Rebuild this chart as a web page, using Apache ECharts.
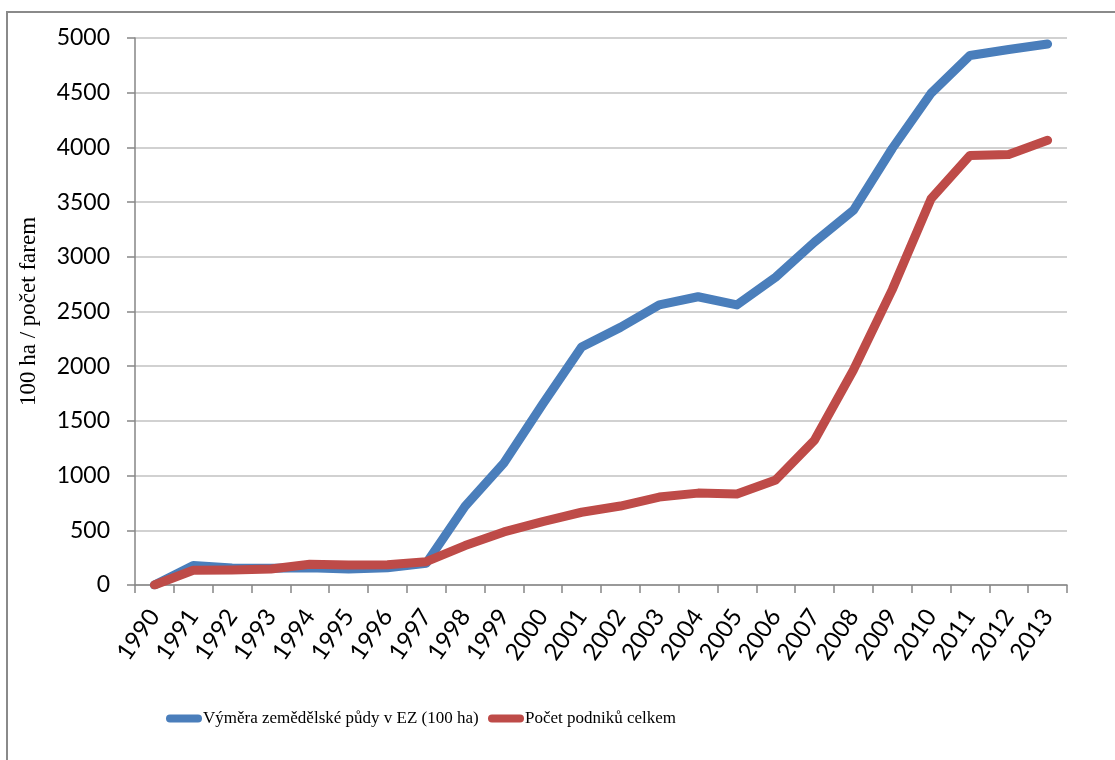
<!DOCTYPE html>
<html>
<head>
<meta charset="utf-8">
<script src="https://cdn.jsdelivr.net/npm/echarts@6/dist/echarts.min.js"></script>
<style>
html, body { margin: 0; padding: 0; background: #fff; }
#main { width: 1115px; height: 760px; }
</style>
</head>
<body>
<div id="main"></div>
<script>
// roky
const years = ['1990','1991','1992','1993','1994','1995','1996','1997','1998','1999','2000','2001',
  '2002','2003','2004','2005','2006','2007','2008','2009','2010','2011','2012','2013'];
// výměra zemědělské půdy v EZ (100 ha)
const vymera = [0, 178, 155, 152, 158, 146, 158, 198, 720, 1115, 1655, 2175,
  2355, 2560, 2635, 2560, 2815, 3135, 3425, 3990, 4495, 4840, 4895, 4945];
// počet podniků celkem
const podniky = [0, 135, 137, 146, 190, 183, 185, 213, 360, 485, 580, 665,
  722, 804, 840, 832, 960, 1325, 1965, 2700, 3530, 3925, 3935, 4065];
const yTicks = { min: 0, max: 5000, interval: 500 };

const blue = '#4A7EBB';
const red = '#BE4B48';
const legendIcon = 'path://M4,0 L32,0 A4,4 0 0 1 32,8 L4,8 A4,4 0 0 1 4,0 Z';

const myEcharts = echarts.init(document.getElementById('main'));
const option = {
  animation: false,
  backgroundColor: '#fff',
  graphic: [{
    type: 'rect',
    shape: { x: 7, y: 12, width: 1300, height: 900 },
    style: { fill: 'none', stroke: '#8a8a8a', lineWidth: 2 },
    silent: true
  }],
  grid: { left: 135, right: 48, top: 38, bottom: 175 },
  legend: [
    {
      left: 166, top: 710, padding: 0, icon: legendIcon, itemWidth: 36, itemHeight: 9, itemGap: 0,
      data: ['Výměra zemědělské půdy v EZ (100 ha)'],
      textStyle: { fontFamily: 'Liberation Serif', fontSize: 17, color: '#000', padding: [0, 0, 0, -4] }
    },
    {
      left: 488, top: 710, padding: 0, icon: legendIcon, itemWidth: 36, itemHeight: 9, itemGap: 0,
      data: ['Počet podniků celkem'],
      textStyle: { fontFamily: 'Liberation Serif', fontSize: 17, color: '#000', padding: [0, 0, 0, -4] }
    }
  ],
  xAxis: {
    type: 'category',
    data: years,
    boundaryGap: true,
    axisLine: { lineStyle: { color: '#868686', width: 1.5 } },
    axisTick: { show: true, length: 8, lineStyle: { color: '#868686', width: 1.5 } },
    axisLabel: {
      interval: 0, rotate: 55, margin: 27,
      fontFamily: 'Lato', fontSize: 24, color: '#000'
    },
    splitLine: { show: false }
  },
  yAxis: {
    type: 'value',
    min: yTicks.min, max: yTicks.max, interval: yTicks.interval,
    name: '100 ha / počet farem',
    nameLocation: 'middle',
    nameGap: 95,
    nameTextStyle: { fontFamily: 'Liberation Serif', fontSize: 23, color: '#000' },
    axisLine: { show: true, lineStyle: { color: '#868686', width: 1.5 } },
    axisTick: { show: true, length: 8, lineStyle: { color: '#868686', width: 1.5 } },
    axisLabel: {
      margin: 25, fontFamily: 'Lato', fontSize: 23, color: '#000',
      formatter: v => String(v)
    },
    splitLine: { show: true, lineStyle: { color: '#c2c2c2', width: 1.5 } }
  },
  series: [
    {
      name: 'Výměra zemědělské půdy v EZ (100 ha)',
      type: 'line',
      data: vymera,
      symbol: 'none',
      itemStyle: { color: blue },
      lineStyle: { color: blue, width: 9, cap: 'round', join: 'round' }
    },
    {
      name: 'Počet podniků celkem',
      type: 'line',
      data: podniky,
      symbol: 'none',
      itemStyle: { color: red },
      lineStyle: { color: red, width: 9, cap: 'round', join: 'round' }
    }
  ]
};
myEcharts.setOption(option);
window.addEventListener('resize', () => {
  myEcharts.resize();
});
</script>
</body>
</html>
